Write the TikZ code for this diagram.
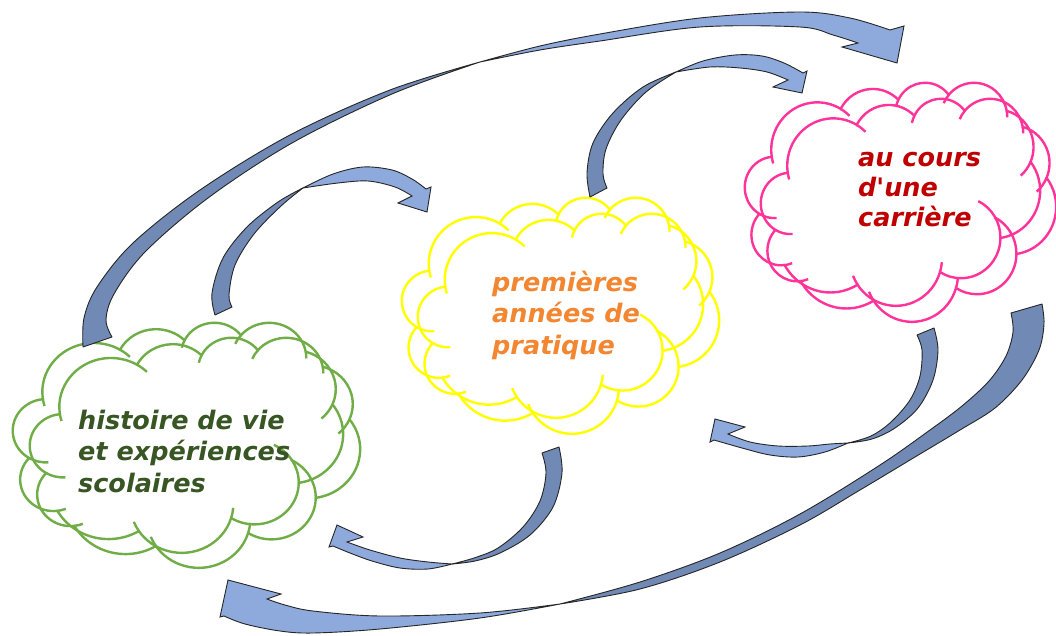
\documentclass[tikz,border=0pt]{standalone}
\usepackage{fontspec}
\setmainfont{DejaVu Sans}
\definecolor{arrdark}{HTML}{7189B5}
\definecolor{arrlight}{HTML}{8EA9DB}
\definecolor{cgreen}{HTML}{70AD47}
\definecolor{tgreen}{HTML}{375623}
\definecolor{cyellow}{HTML}{FFFF00}
\definecolor{torange}{HTML}{F38630}
\definecolor{cpink}{HTML}{FF3399}
\definecolor{tred}{HTML}{C00000}
\tikzset{
  darkpart/.style={fill=arrdark, draw=black!85, line width=0.9pt, line join=round},
  lightpart/.style={fill=arrlight, draw=black!85, line width=0.9pt, line join=miter},
  cloudline/.style={line width=2.4pt, line cap=butt},
  cloudtext/.style={font=\bfseries\itshape\fontsize{25.5}{31.5}\selectfont, align=left, inner sep=0pt, anchor=west},
  edge/.style={smooth, tension=0.55},
}
% Office "cloud" outline in a 432 x 432 box, scaled to W x H at (x0,y0)
\newcommand{\pptcloud}[5]{%
 \begin{scope}[shift={(#1,#2)}, xscale=#3/432, yscale=#4/432]
  \draw[cloudline,#5] (39.00,143.70)
   arc[start angle=172.25, end angle=300.40, x radius=67.53, y radius=91.90]
   arc[start angle=-152.00, end angle=-45.45, x radius=53.33, y radius=72.67]
   arc[start angle=-153.48, end angle=-37.33, x radius=43.65, y radius=59.45]
   arc[start angle=-139.71, end angle=-10.22, x radius=48.57, y radius=65.95]
   arc[start angle=-74.77, end angle=23.21, x radius=53.33, y radius=72.73]
   arc[start angle=-37.53, end angle=81.86, x radius=67.75, y radius=92.20]
   arc[start angle=0.46, end angle=121.98, x radius=57.85, y radius=78.67]
   arc[start angle=16.85, end angle=146.25, x radius=67.52, y radius=92.15]
   arc[start angle=58.98, end angle=150.20, x radius=77.20, y radius=105.43]
   arc[start angle=83.31, end angle=223.12, x radius=43.60, y radius=59.18]
   arc[start angle=120.36, end angle=264.11, x radius=43.45, y radius=59.45]
   -- cycle;
  \draw[cloudline,#5] ([shift={(43.08,204.27)}]85.54:43.45 and 59.45) arc[start angle=85.54, end angle=120.36, x radius=43.45, y radius=59.45];
  \draw[cloudline,#5] ([shift={(52.96,296.00)}]68.24:43.60 and 59.18) arc[start angle=68.24, end angle=83.31, x radius=43.60, y radius=59.18];
  \draw[cloudline,#5] ([shift={(220.97,341.51)}]146.25:67.52 and 92.15) arc[start angle=146.25, end angle=158.47, x radius=67.52, y radius=92.15];
  \draw[cloudline,#5] ([shift={(220.97,341.51)}]4.74:67.52 and 92.15) arc[start angle=4.74, end angle=16.85, x radius=67.52, y radius=92.15];
  \draw[cloudline,#5] ([shift={(316.23,301.48)}]-64.03:57.85 and 78.67) arc[start angle=-64.03, end angle=0.46, x radius=57.85, y radius=78.67];
  \draw[cloudline,#5] ([shift={(369.21,126.01)}]23.21:53.33 and 72.73) arc[start angle=23.21, end angle=49.65, x radius=53.33, y radius=72.73];
  \draw[cloudline,#5] ([shift={(335.42,67.53)}]-10.22:48.57 and 65.95) arc[start angle=-10.22, end angle=0.83, x radius=48.57, y radius=65.95];
  \draw[cloudline,#5] ([shift={(335.42,67.53)}]-156.29:48.57 and 65.95) arc[start angle=-156.29, end angle=-139.71, x radius=48.57, y radius=65.95];
  \draw[cloudline,#5] ([shift={(263.66,60.93)}]-167.72:43.65 and 59.45) arc[start angle=-167.72, end angle=-153.48, x radius=43.65, y radius=59.45];
  \draw[cloudline,#5] ([shift={(105.92,131.30)}]-59.60:67.53 and 91.90) arc[start angle=-59.60, end angle=-45.75, x radius=67.53, y radius=91.90];
  \draw[cloudline,#5] ([shift={(105.92,131.30)}]163.19:67.53 and 91.90) arc[start angle=163.19, end angle=172.25, x radius=67.53, y radius=91.90];
 \end{scope}}
\begin{document}
\begin{tikzpicture}[x=1pt,y=-1pt]
\useasboundingbox (0,0) rectangle (1056,636);
\fill[white] (0,0) rectangle (1056,636);

% clouds (each drawn twice, offset)
\pptcloud{13}{322}{330}{230}{cgreen}
\pptcloud{30}{337}{330}{230}{cgreen}
\pptcloud{402}{197}{301}{220}{cyellow}
\pptcloud{418}{213}{301}{220}{cyellow}
\pptcloud{745}{82}{295}{223}{cpink}
\pptcloud{761}{98}{295}{223}{cpink}

% big top arrow
\filldraw[darkpart] plot[edge] coordinates {(83,347) (84,318) (97,287) (133,243) (200,190) (290,135) (390,90) (480,62)}
  -- plot[edge] coordinates {(480,62) (392,94) (292,143) (208,198) (145,252) (114,294) (106,320) (112,337)} -- cycle;
\filldraw[lightpart] plot[edge] coordinates {(480,62) (540,46) (600,34) (700,18) (800,12) (850,18) (890,30)}
  -- (904,26) -- (897,63) -- (842,47) -- (858,43)
  -- plot[edge] coordinates {(858,43) (833,35) (800,27) (700,27) (600,41) (540,50) (480,62)} -- cycle;

% big bottom arrow
\filldraw[darkpart] plot[edge] coordinates {(1042,304) (1044,324) (1039,350) (1022,380) (995,408) (960,430) (915,457) (860,490) (800,525) (720,562) (640,589) (560,604)}
  -- plot[edge] coordinates {(560,604) (640,582) (720,553) (800,514) (880,465) (930,430) (962,406) (989,381) (1006,356) (1013,332) (1011,313)} -- cycle;
\filldraw[lightpart] plot[edge] coordinates {(560,604) (480,613) (380,616) (313,611) (285,605) (267,599)}
  -- (281,594) -- (228,580) -- (220,617) -- (224,616)
  -- plot[edge] coordinates {(224,616) (245,624) (280,631) (313,633) (380,629) (480,618) (560,604)} -- cycle;

% green -> yellow
\filldraw[darkpart] plot[edge] coordinates {(215,315) (212,293) (223,258) (247,227) (278,202) (303,188)}
  -- plot[edge] coordinates {(303,188) (281,206) (254,234) (235,265) (229,295) (232,307)} -- cycle;
\filldraw[lightpart] plot[edge] coordinates {(303,188) (333,174) (363,167) (392,170) (412,179) (426,189)}
  -- (431,187) -- (427,212) -- (398,203) -- (412,196)
  -- plot[edge] coordinates {(412,196) (395,187) (368,181) (338,183) (303,188)} -- cycle;

% yellow -> pink
\filldraw[darkpart] plot[edge] coordinates {(590,197) (587,173) (593,143) (613,113) (643,87) (676,72)}
  -- plot[edge] coordinates {(676,72) (646,92) (621,120) (606,149) (603,174) (607,188)} -- cycle;
\filldraw[lightpart] plot[edge] coordinates {(676,72) (703,61) (735,55) (762,56) (784,63) (803,73)}
  -- (807,71) -- (802,93) -- (773,87) -- (788,80)
  -- plot[edge] coordinates {(788,80) (767,72) (740,68) (710,67) (676,72)} -- cycle;

% pink -> yellow
\filldraw[darkpart] plot[edge] coordinates {(934,328) (938,350) (933,380) (918,408) (895,428) (872,439) (848,443)}
  -- plot[edge] coordinates {(848,443) (871,436) (891,422) (910,400) (920,376) (922,350) (917,335)} -- cycle;
\filldraw[lightpart] plot[edge] coordinates {(848,443) (825,452) (798,457) (770,455) (742,448) (714,440)}
  -- (710,442) -- (715,419) -- (745,427) -- (728,434)
  -- plot[edge] coordinates {(728,434) (750,442) (778,446) (808,446) (830,444) (848,443)} -- cycle;

% yellow -> green
\filldraw[darkpart] plot[edge] coordinates {(559,447) (562,473) (553,507) (530,535) (500,553) (475,561) (452,564)}
  -- plot[edge] coordinates {(452,564) (474,558) (498,548) (523,527) (540,501) (546,473) (542,453)} -- cycle;
\filldraw[lightpart] plot[edge] coordinates {(452,564) (428,569) (400,568) (372,561) (350,553) (333,546)}
  -- (329,547) -- (337,525) -- (363,537) -- (347,542)
  -- plot[edge] coordinates {(347,542) (370,550) (400,558) (428,562) (452,564)} -- cycle;

% texts
\node[cloudtext, text=tgreen] (t1) at (78,451) {histoire de vie\\et expériences\\scolaires};
\node[cloudtext, text=torange] (t2) at (492,315) {premières\\années de\\pratique};
\node[cloudtext, text=tred, font=\bfseries\itshape\fontsize{25.5}{30}\selectfont] (t3) at (858,190) {au cours\\d\textquotesingle une\\carrière};
\end{tikzpicture}
\end{document}
